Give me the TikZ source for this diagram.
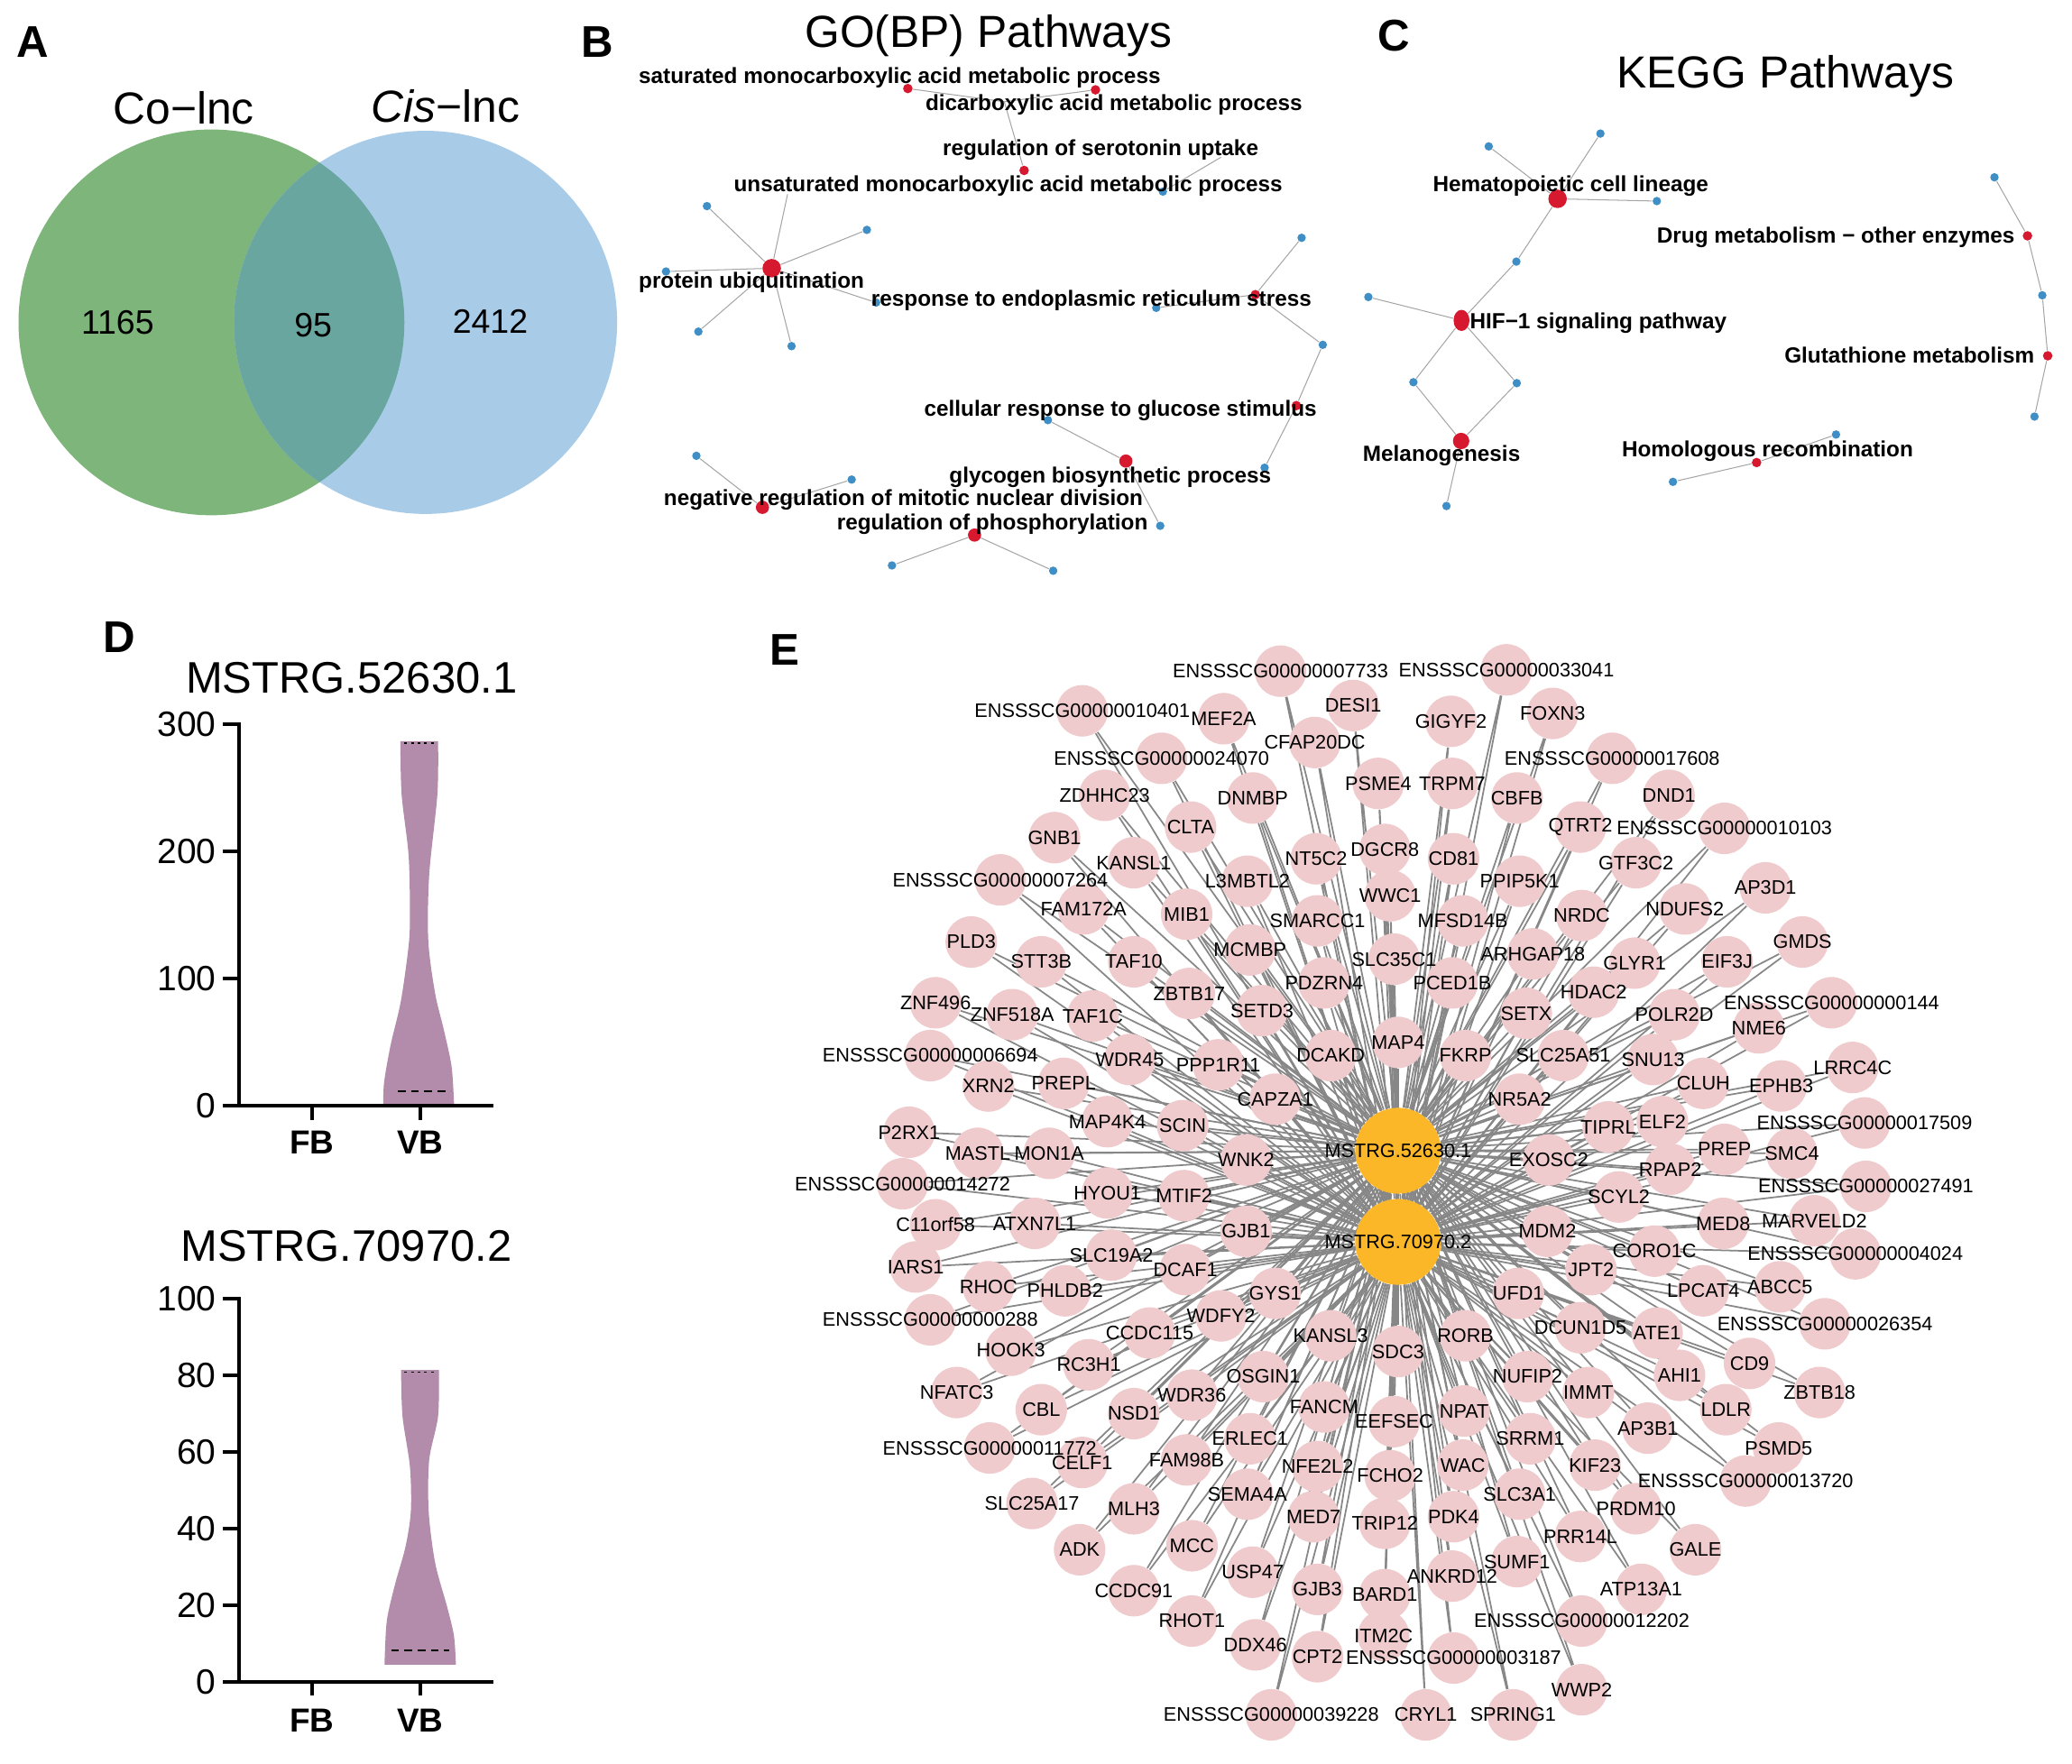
\documentclass[tikz,border=0pt]{standalone}
\usepackage{fontspec}
\setmainfont{Liberation Sans}
\usetikzlibrary{shapes.geometric}
\pgfdeclarelayer{edgelayer}
\pgfdeclarelayer{textlayer}
\pgfsetlayers{edgelayer,main,textlayer}
\definecolor{vgreen}{RGB}{125,181,122}
\definecolor{vblue}{RGB}{168,203,232}
\definecolor{vover}{RGB}{105,166,160}
\definecolor{gpink}{RGB}{240,203,205}
\definecolor{horange}{RGB}{252,183,41}
\definecolor{egray}{RGB}{135,135,135}
\definecolor{lgray}{RGB}{165,165,165}
\definecolor{pred}{RGB}{215,25,47}
\definecolor{pblue}{RGB}{63,143,198}
\definecolor{vio}{RGB}{179,139,171}
\tikzset{
  gene/.style={circle, fill=gpink, minimum size=19.5pt, inner sep=0pt},
  glabel/.style={font=\fontsize{7.4}{8}\selectfont, inner sep=0pt},
  hub/.style={circle, fill=horange, minimum size=32.5pt, inner sep=0pt},
  gedge/.style={draw=egray, line width=0.6pt},
  pwlabel/.style={font=\bfseries\fontsize{8.3}{9}\selectfont, inner sep=0pt, anchor=mid west},
  rsmall/.style={circle, fill=pred, minimum size=3.6pt, inner sep=0pt},
  rbig/.style={circle, fill=pred, minimum size=7pt, inner sep=0pt},
  bdot/.style={circle, fill=pblue, minimum size=3.2pt, inner sep=0pt},
  pwedge/.style={draw=lgray, line width=0.35pt},
  panel/.style={font=\bfseries\fontsize{16.8}{18}\selectfont, inner sep=0pt},
  ptitle/.style={font=\fontsize{17}{19}\selectfont, inner sep=0pt},
  vennset/.style={font=\fontsize{17}{19}\selectfont, inner sep=0pt},
  vennnum/.style={font=\fontsize{12.8}{14}\selectfont, inner sep=0pt},
  axisline/.style={line width=1.5pt, line cap=rect},
  ticklab/.style={font=\fontsize{13.3}{15}\selectfont, inner sep=0pt, anchor=east},
  grouplab/.style={font=\bfseries\fontsize{12.6}{14}\selectfont, inner sep=0pt},
  vtitle/.style={font=\fontsize{16.7}{18}\selectfont, inner sep=0pt},
}
\begin{document}
\begin{tikzpicture}[x=0.5pt,y=-0.5pt]
\useasboundingbox (0,0) rectangle (1568,1335);

% ---------------- panel letters
\node[panel] (lA) at (25,32) {A};
\node[panel] (lB) at (452,32) {B};
\node[panel] (lC) at (1055,27) {C};
\node[panel] (lD) at (90,482) {D};
\node[panel] (lE) at (594,492) {E};

% ---------------- A: Venn
\node[circle, fill=vgreen, minimum size=146pt, inner sep=0pt] (setco) at (160,244) {};
\node[circle, fill=vblue, minimum size=145pt, inner sep=0pt] (setcis) at (322,244) {};
\begin{scope}
  \clip (160,244) circle[radius=73pt];
  \fill[vover] (322,244) circle[radius=72.5pt];
\end{scope}
\node[vennset] (tco) at (139,82) {Co−lnc};
\node[vennset] (tcis) at (337,80) {\textit{Cis}−lnc};
\node[vennnum] (n1165) at (89,244) {1165};
\node[vennnum] (n95) at (237,246) {95};
\node[vennnum] (n2412) at (371,243) {2412};

% ---------------- B: GO(BP)
\node[ptitle] (titB) at (748,27) {GO(BP) Pathways};
\coordinate (bJ) at (760,77);
\coordinate (bU2) at (924,119);
\coordinate (bPc) at (596,147);
\node[rsmall] (bS) at (687,67) {};
\node[rsmall] (bD) at (829,68) {};
\node[rsmall] (bR) at (775,129) {};
\node[bdot] (bUb) at (880,145) {};
\node[rbig] (bP) at (584,203) {};
\node[bdot] (b1) at (535,156) {};
\node[bdot] (b2) at (656,174) {};
\node[bdot] (b3) at (504,205.5) {};
\node[bdot] (b4) at (528.5,251) {};
\node[bdot] (b5) at (599,262) {};
\node[bdot] (b6) at (663,229) {};
\node[rsmall] (bE) at (950,223) {};
\node[bdot] (b7) at (985,180) {};
\node[bdot] (b8) at (875,233) {};
\node[bdot] (b9) at (1001,261) {};
\node[rsmall] (bG) at (981,307) {};
\node[bdot] (b10) at (957,354) {};
\node[rbig, minimum size=5pt] (bY) at (852,349) {};
\node[bdot] (b11) at (793,318) {};
\node[bdot] (b12) at (878,398) {};
\node[rbig, minimum size=5pt] (bN) at (577,384) {};
\node[bdot] (b13) at (527,345) {};
\node[bdot] (b14) at (644.5,363) {};
\node[rbig, minimum size=5pt] (bF) at (737.5,405) {};
\node[bdot] (b15) at (675,428) {};
\node[bdot] (b16) at (797,432) {};
\begin{pgfonlayer}{edgelayer}
\draw[pwedge] (bS) -- (bJ) (bD) -- (bJ) (bJ) -- (bR) (bUb) -- (bU2);
\draw[pwedge] (bP) -- (bPc) (bP) -- (b1) (bP) -- (b2) (bP) -- (b3) (bP) -- (b4) (bP) -- (b5) (bP) -- (b6);
\draw[pwedge] (bE) -- (b7) (bE) -- (b8) (bE) -- (b9) (b9) -- (bG) (bG) -- (b10);
\draw[pwedge] (bY) -- (b11) (bY) -- (b12) (bN) -- (b13) (bN) -- (b14) (bF) -- (b15) (bF) -- (b16);
\end{pgfonlayer}
\node[pwlabel] (lb1) at (483,58) {saturated monocarboxylic acid metabolic process};
\node[pwlabel] (lb2) at (700,78) {dicarboxylic acid metabolic process};
\node[pwlabel] (lb3) at (713,112.5) {regulation of serotonin uptake};
\node[pwlabel] (lb4) at (555,140) {unsaturated monocarboxylic acid metabolic process};
\node[pwlabel] (lb5) at (483,213) {protein ubiquitination};
\node[pwlabel] (lb6) at (659,226.5) {response to endoplasmic reticulum stress};
\node[pwlabel] (lb7) at (699,309.5) {cellular response to glucose stimulus};
\node[pwlabel] (lb8) at (718,360) {glycogen biosynthetic process};
\node[pwlabel] (lb9) at (502,377) {negative regulation of mitotic nuclear division};
\node[pwlabel] (lb10) at (633,396) {regulation of phosphorylation};

% ---------------- C: KEGG
\node[ptitle] (titC) at (1351,58) {KEGG Pathways};
\node[rbig] (cH) at (1178.7,150.5) {};
\node[bdot] (c1) at (1126.6,110.8) {};
\node[bdot] (c2) at (1211.1,101.1) {};
\node[bdot] (c3) at (1253.8,152.2) {};
\node[bdot] (c4) at (1147.5,198) {};
\node[ellipse, fill=pred, inner sep=0pt, minimum width=6pt, minimum height=8pt] (cI) at (1106,242.5) {};
\node[bdot] (c5) at (1035.5,224.8) {};
\node[bdot] (c6) at (1069.6,289.3) {};
\node[bdot] (c7) at (1147.8,290) {};
\node[rbig, minimum size=6.2pt] (cM) at (1105.7,333.8) {};
\node[bdot] (c8) at (1094.6,383) {};
\node[rsmall] (cD) at (1534.3,178.5) {};
\node[bdot] (c9) at (1509.3,134.2) {};
\node[bdot] (c10) at (1545.5,223.5) {};
\node[rsmall] (cG) at (1549.6,269.3) {};
\node[bdot] (c11) at (1539.6,315.3) {};
\node[rsmall] (cR) at (1329.3,350.1) {};
\node[bdot] (c12) at (1389.4,328.9) {};
\node[bdot] (c13) at (1266,364.7) {};
\begin{pgfonlayer}{edgelayer}
\draw[pwedge] (cH) -- (c1) (cH) -- (c2) (cH) -- (c3) (cH) -- (c4) (c4) -- (cI);
\draw[pwedge] (cI) -- (c5) (cI) -- (c6) (cI) -- (c7) (c6) -- (cM) (c7) -- (cM) (cM) -- (c8);
\draw[pwedge] (c9) -- (cD) (cD) -- (c10) (c10) -- (cG) (cG) -- (c11);
\draw[pwedge] (c13) -- (cR) (cR) -- (c12);
\end{pgfonlayer}
\node[pwlabel] (lc1) at (1084,140) {Hematopoietic cell lineage};
\node[pwlabel] (lc2) at (1253.5,179) {Drug metabolism − other enzymes};
\node[pwlabel] (lc3) at (1112,243.7) {HIF−1 signaling pathway};
\node[pwlabel] (lc4) at (1350,269.8) {Glutathione metabolism};
\node[pwlabel] (lc5) at (1031,344) {Melanogenesis};
\node[pwlabel] (lc6) at (1227,340.4) {Homologous recombination};

% ---------------- D: violin plots
\node[vtitle] (vt1) at (266,513) {MSTRG.52630.1};
\fill[vio] (303,561) -- plot[smooth] coordinates {(331.5,561) (331,601) (324.8,662) (324.1,712) (329.3,752) (336,780) (341.7,807) (343.5,833) (343.5,837)}
  -- plot[smooth] coordinates {(290,837) (290.7,819) (295.6,791) (303.5,757) (309.5,713) (310.2,685) (309.1,646) (303.9,601) (303,561)} -- cycle;
\draw[line width=0.6pt, dash pattern=on 3pt off 2pt] (301,826) -- (341,826);
\draw[line width=0.4pt, dash pattern=on 1pt off 1.5pt] (306,562.5) -- (329,562.5);
\draw[axisline] (181,548) -- (181,837) -- (372,837);
\draw[axisline] (170,548) -- (181,548) (170,644.3) -- (181,644.3) (170,740.7) -- (181,740.7) (170,837) -- (181,837);
\draw[axisline] (236,837) -- (236,846) (318,837) -- (318,846);
\node[ticklab] (y300) at (164,548) {300};
\node[ticklab] (y200) at (164,644.3) {200};
\node[ticklab] (y100) at (164,740.7) {100};
\node[ticklab] (y0a) at (164,837) {0};
\node[grouplab] (fb1) at (236,865) {FB};
\node[grouplab] (vb1) at (318,865) {VB};

\node[vtitle] (vt2) at (262,943) {MSTRG.70970.2};
\fill[vio] (303.5,1037) -- plot[smooth] coordinates {(332.2,1037) (331.5,1072) (324.8,1105) (324.4,1144) (329.3,1183) (338.3,1216) (343.5,1238) (345,1260)}
  -- plot[smooth] coordinates {(291,1260) (292.7,1227) (299,1199) (306.8,1171) (310.9,1144) (310.2,1110) (304.6,1072) (303.5,1037)} -- cycle;
\draw[line width=0.6pt, dash pattern=on 3pt off 2pt] (296,1249) -- (340,1249);
\draw[line width=0.4pt, dash pattern=on 1pt off 1.5pt] (306,1038.5) -- (330,1038.5);
\draw[axisline] (181,983) -- (181,1273) -- (372,1273);
\draw[axisline] (170,983) -- (181,983) (170,1041) -- (181,1041) (170,1099) -- (181,1099) (170,1157) -- (181,1157) (170,1215) -- (181,1215) (170,1273) -- (181,1273);
\draw[axisline] (236,1273) -- (236,1282) (318,1273) -- (318,1282);
\node[ticklab] (z100) at (164,983) {100};
\node[ticklab] (z80) at (164,1041) {80};
\node[ticklab] (z60) at (164,1099) {60};
\node[ticklab] (z40) at (164,1157) {40};
\node[ticklab] (z20) at (164,1215) {20};
\node[ticklab] (z0) at (164,1273) {0};
\node[grouplab] (fb2) at (236,1302) {FB};
\node[grouplab] (vb2) at (318,1302) {VB};

% ---------------- E: network
\node[hub] (m1) at (1058,871) {};
\node[hub] (m2) at (1058,940) {};
\begin{pgfonlayer}{textlayer}
\node[glabel] (tm1) at (m1) {MSTRG.52630.1};
\node[glabel] (tm2) at (m2) {MSTRG.70970.2};
\end{pgfonlayer}
\foreach \gx/\gy/\gt [count=\gi] in {
969/508/ENSSSCG00000007733, 1140/507/ENSSSCG00000033041, 819/538/ENSSSCG00000010401,
926/544/MEF2A, 1024/534/DESI1, 1098/546/GIGYF2, 1175/540/FOXN3, 995/562/CFAP20DC,
879/574/ENSSSCG00000024070, 1220/574/ENSSSCG00000017608, 836/602/ZDHHC23, 948/604/DNMBP,
1043/593/PSME4, 1099/593/TRPM7, 1148/604/CBFB, 1263/602/DND1, 901/626/CLTA, 1196/626/QTRT2,
1305/627/ENSSSCG00000010103, 798/634/GNB1, 858/653/KANSL1, 996/650/NT5C2, 1048/643/DGCR8,
1100/650/CD81, 1238/653/GTF3C2, 1336/672/AP3D1, 757/666/ENSSSCG00000007264, 944/667/L3MBTL2,
1150/667/PPIP5K1, 820/688/FAM172A, 898/692/MIB1, 1052/678/WWC1, 1107/697/MFSD14B, 1197/693/NRDC,
1275/688/NDUFS2, 997/697/SMARCC1, 735/713/PLD3, 788/728/STT3B, 858/728/TAF10, 946/719/MCMBP,
1055/726/SLC35C1, 1160/722/ARHGAP18, 1237/729/GLYR1, 1307/728/EIF3J, 1364/713/GMDS,
1002/744/PDZRN4, 1099/744/PCED1B, 708/759/ZNF496, 766/768/ZNF518A, 827/769/TAF1C, 900/752/ZBTB17,
955/765/SETD3, 1155/767/SETX, 1206/751/HDAC2, 1386/759/ENSSSCG00000000144, 1267/768/POLR2D,
1331/778/NME6, 1058/789/MAP4, 704/799/ENSSSCG00000006694, 855/802/WDR45, 922/806/PPP1R11,
1007/799/DCAKD, 1109/799/FKRP, 1183/799/SLC25A51, 1251/802/SNU13, 1402/808/LRRC4C, 748/822/XRN2,
805/820/PREPL, 965/832/CAPZA1, 1150/832/NR5A2, 1289/820/CLUH, 1348/822/EPHB3,
1411/850/ENSSSCG00000017509, 838/849/MAP4K4, 895/852/SCIN, 1217/853/TIPRL, 1258/849/ELF2,
688/857/P2RX1, 740/873/MASTL, 794/873/MON1A, 1305/870/PREP, 1356/873/SMC4, 1172/878/EXOSC2,
1264/885/RPAP2, 943/878/WNK2, 683/896/ENSSSCG00000014272, 838/903/HYOU1, 896/905/MTIF2,
1225/906/SCYL2, 1412/898/ENSSSCG00000027491, 708/927/C11orf58, 783/926/ATXN7L1, 943/932/GJB1,
1171/932/MDM2, 1304/926/MED8, 1373/924/MARVELD2, 1252/947/CORO1C, 1404/949/ENSSSCG00000004024,
841/950/SLC19A2, 693/959/IARS1, 897/961/DCAF1, 1204/961/JPT2, 1289/977/LPCAT4, 1347/974/ABCC5,
748/974/RHOC, 806/977/PHLDB2, 965/979/GYS1, 1149/979/UFD1, 924/996/WDFY2,
704/999/ENSSSCG00000000288, 1196/1005/DCUN1D5, 1254/1009/ATE1, 1381/1002/ENSSSCG00000026354,
870/1009/CCDC115, 765/1022/HOOK3, 1007/1011/KANSL3, 1058/1023/SDC3, 1109/1011/RORB,
824/1033/RC3H1, 1324/1032/CD9, 1377/1054/ZBTB18, 1271/1041/AHI1, 724/1054/NFATC3,
956/1042/OSGIN1, 1156/1042/NUFIP2, 902/1056/WDR36, 1202/1054/IMMT, 1306/1067/LDLR,
788/1067/CBL, 858/1070/NSD1, 1002/1065/FANCM, 1108/1068/NPAT, 1055/1076/EEFSEC,
1247/1081/AP3B1, 1346/1096/PSMD5, 749/1096/ENSSSCG00000011772, 946/1089/ERLEC1,
1158/1089/SRRM1, 819/1107/CELF1, 898/1105/FAM98B, 997/1110/NFE2L2, 1107/1109/WAC,
1052/1117/FCHO2, 1207/1109/KIF23, 1321/1121/ENSSSCG00000013720, 781/1138/SLC25A17,
944/1131/SEMA4A, 1150/1131/SLC3A1, 1238/1142/PRDM10, 858/1142/MLH3, 994/1148/MED7,
1100/1148/PDK4, 1048/1153/TRIP12, 1196/1163/PRR14L, 1283/1173/GALE, 817/1173/ADK,
902/1170/MCC, 1148/1182/SUMF1, 1099/1193/ANKRD12, 948/1190/USP47, 1242/1203/ATP13A1,
858/1204/CCDC91, 997/1203/GJB3, 1048/1207/BARD1, 1197/1227/ENSSSCG00000012202,
902/1227/RHOT1, 950/1245/DDX46, 1047/1238/ITM2C, 997/1254/CPT2,
1100/1255/ENSSSCG00000003187, 1197/1279/WWP2, 962/1298/ENSSSCG00000039228,
1079/1298/CRYL1, 1145/1298/SPRING1}
{
  \node[gene] (g\gi) at (\gx,\gy) {};
  \begin{pgfonlayer}{edgelayer}
    \draw[gedge] (g\gi) -- (m1) (g\gi) -- (m2);
  \end{pgfonlayer}
  \begin{pgfonlayer}{textlayer}
    \node[glabel] (t\gi) at (\gx,\gy) {\gt};
  \end{pgfonlayer}
}
\end{tikzpicture}
\end{document}
